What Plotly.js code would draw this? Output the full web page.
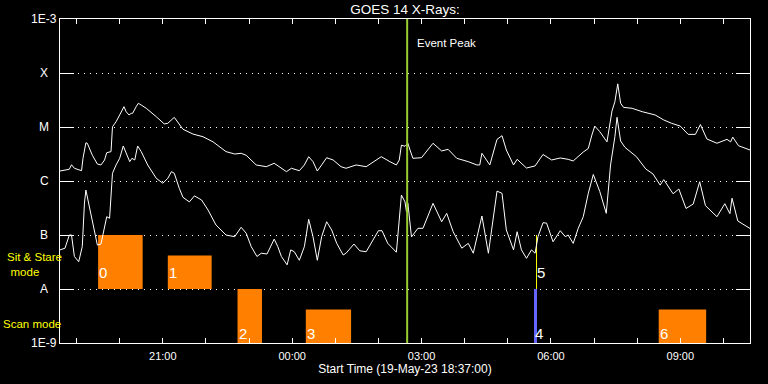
<!DOCTYPE html>
<html>
<head>
<meta charset="utf-8">
<script src="https://cdn.plot.ly/plotly-3.0.1.min.js"></script>
<style>
html,body{margin:0;padding:0;background:#000;}
#chart{width:768px;height:384px;}
</style>
</head>
<body>
<div id="chart"></div>
<script>
// ---- data (times are UT clock times; 18:xx-23:xx on 19-May-23, 00:xx-10:xx on 20-May-23) ----
const startLabel = 'Start Time (19-May-23 18:37:00)';
const rangeStart = '18:37';
const rangeEnd = '10:37';
const eventPeakTime = '02:40';

const longTimes = ['18:37','18:50','18:53','18:57','19:07','19:09','19:13','19:15','19:22','19:29',
 '19:34','19:39','19:42','19:48','19:50','19:55','20:00','20:06','20:09','20:13',
 '20:16','20:18','20:23','20:26','20:30','20:37','20:51','21:02','21:07','21:16',
 '21:28','21:42','21:56','22:10','22:28','22:40','22:49','22:56','23:10','23:24',
 '23:35','23:52','23:59','00:10','00:17','00:23','00:29','00:35','00:41','00:48',
 '00:57','01:08','01:15','01:29','01:43','01:53','02:04','02:16','02:25','02:29',
 '02:32','02:37','02:41','02:44','02:48','03:00','03:16','03:28','03:37','03:49',
 '04:05','04:17','04:21','04:24','04:35','04:45','04:52','04:58','05:08','05:13',
 '05:26','05:38','05:49','06:01','06:13','06:24','06:31','06:45','06:52','06:57',
 '07:01','07:08','07:18','07:25','07:29','07:33','07:37','07:41','07:53','08:07',
 '08:25','08:37','08:48','09:00','09:11','09:21','09:28','09:37','09:51','10:05',
 '10:10','10:13','10:21','10:37'];
const longFlux = [1.53e-6,1.65e-6,2.0e-6,1.72e-6,1.55e-6,2.63e-6,5.1e-6,5.0e-6,3.0e-6,2.06e-6,
 1.98e-6,2.45e-6,3.34e-6,3.5e-6,1.01e-5,1.25e-5,1.67e-5,2.38e-5,1.92e-5,1.67e-5,
 1.79e-5,1.79e-5,2.38e-5,2.75e-5,2.55e-5,2.22e-5,1.55e-5,1.14e-5,1.17e-5,1.51e-5,
 9.1e-6,7.4e-6,6.6e-6,5.3e-6,3.5e-6,3.16e-6,3.26e-6,3.0e-6,1.98e-6,1.84e-6,
 2.13e-6,1.49e-6,1.72e-6,1.55e-6,1.98e-6,2.82e-6,2.28e-6,1.53e-6,1.98e-6,2.7e-6,
 2.45e-6,1.84e-6,1.72e-6,1.98e-6,1.84e-6,2.28e-6,2.82e-6,2.28e-6,1.98e-6,2.45e-6,
 4.6e-6,4.4e-6,5.0e-6,3.75e-6,2.63e-6,2.7e-6,5.0e-6,3.6e-6,3.86e-6,2.63e-6,
 2.28e-6,1.98e-6,1.98e-6,3.26e-6,1.98e-6,5.9e-6,6.9e-6,3.75e-6,1.98e-6,2.52e-6,
 1.74e-6,1.9e-6,3.1e-6,2.45e-6,2.67e-6,2.52e-6,2.35e-6,3.44e-6,4.0e-6,7.1e-6,
 1.04e-5,8.2e-6,5.3e-6,1.98e-5,2.94e-5,6.3e-5,2.75e-5,2.31e-5,2.22e-5,1.92e-5,
 1.67e-5,1.35e-5,1.17e-5,1.04e-5,7.3e-6,7.3e-6,1.11e-5,6.0e-6,5.0e-6,5.9e-6,
 5.3e-6,6.5e-6,4.5e-6,3.75e-6];

const shortTimes = ['18:37','18:44','18:50','18:53','18:57','19:03','19:08','19:11','19:13','19:15',
 '19:20','19:25','19:29','19:34','19:39','19:42','19:46','19:48','19:50','19:55',
 '20:00','20:05','20:09','20:14','20:17','20:21','20:25','20:30','20:39','20:51',
 '21:00','21:07','21:12','21:16','21:23','21:28','21:37','21:44','21:54','22:03',
 '22:14','22:28','22:40','22:49','22:56','23:03','23:11','23:17','23:25','23:35',
 '23:40','23:45','23:53','23:58','00:03','00:10','00:17','00:23','00:29','00:35',
 '00:41','00:48','00:55','01:02','01:11','01:15','01:26','01:34','01:43','01:50',
 '02:00','02:05','02:13','02:25','02:27','02:32','02:37','02:39','02:41','02:46',
 '02:55','03:02','03:16','03:28','03:35','03:44','03:56','04:05','04:12','04:24',
 '04:33','04:45','04:52','04:58','05:08','05:13','05:19','05:26','05:33','05:38',
 '05:42','05:49','05:54','06:03','06:13','06:20','06:24','06:31','06:38','06:45',
 '06:52','06:59','07:08','07:17','07:23','07:29','07:32','07:37','07:43','07:59',
 '08:12','08:22','08:32','08:37','08:50','08:58','09:08','09:18','09:27','09:35',
 '09:51','10:02','10:09','10:12','10:20','10:35','10:37'];
const shortFlux = [5.3e-8,5.7e-8,1.0e-7,1.0e-7,4.0e-8,3.2e-8,6.1e-8,3.9e-7,6.8e-7,5.1e-7,
 2.18e-7,1.08e-7,6.5e-8,6.8e-8,1.42e-7,2.18e-7,2.04e-7,4.45e-7,1.39e-6,1.98e-6,
 2.63e-6,4.45e-6,3.26e-6,2.28e-6,2.63e-6,2.45e-6,4.45e-6,3.5e-6,1.98e-6,1.12e-6,
 9.1e-7,1.12e-6,1.49e-6,1.39e-6,7.3e-7,5.0e-7,4.1e-7,5.3e-7,4.45e-7,2.9e-7,
 1.53e-7,1.0e-7,9.3e-8,1.39e-7,1.08e-7,6.1e-8,4.0e-8,4.6e-8,4.45e-8,8.4e-8,
 6.1e-8,4.0e-8,2.8e-8,5.3e-8,4.9e-8,3.4e-8,6.1e-8,1.95e-7,9.3e-8,3.4e-8,
 9.3e-8,1.76e-7,1.24e-7,7.0e-8,4.26e-8,4.6e-8,6.8e-8,5.1e-8,4.9e-8,7.0e-8,
 1.2e-7,1.2e-7,7.0e-8,4.8e-8,9.3e-8,5.5e-7,4.1e-7,2.7e-7,3.86e-7,9.2e-8,
 1.33e-7,1.33e-7,3.86e-7,1.76e-7,2.52e-7,1.15e-7,5.7e-8,7.0e-8,4.6e-8,2.25e-7,
 4.6e-8,6.5e-7,5.9e-7,1.24e-7,5.3e-8,1.15e-7,5.3e-8,3.7e-8,5.3e-8,4.6e-8,
 9.3e-8,1.69e-7,1.66e-7,7.5e-8,1.2e-7,9.3e-8,1.0e-7,7.0e-8,1.33e-7,2.18e-7,
 5.9e-7,1.32e-6,6.4e-7,2.52e-7,1.98e-6,6.6e-6,1.51e-5,5.5e-6,4.2e-6,2.82e-6,
 1.67e-6,1.35e-6,8.4e-7,1.06e-6,5.8e-7,7.1e-7,3.1e-7,3.75e-7,9.7e-7,3.5e-7,
 2.18e-7,3.8e-7,2.48e-7,4.8e-7,1.82e-7,1.41e-7,1.32e-7];

// observation blocks
const barLabels = ['0','1','2','3','4','5','6'];
const barStart  = ['19:30','21:07','22:44','00:19','05:36:30','05:39:18','08:30'];
const barEnd    = ['20:32','22:08','23:18','01:22','05:40:42','05:40:42','09:36'];
const barMode   = ['stare','stare','scan','scan','scan','stare','scan'];
const barLevel  = [1, 0.62, 1, 0.62, 1, 1, 0.62];
const barColors = ['#ff8000','#ff8000','#ff8000','#ff8000','#6464ff','#ffff00','#ff8000'];

const yTickVals = [1e-3,1e-4,1e-5,1e-6,1e-7,1e-8,1e-9];
const yTickText = ['1E-3','X','M','C','B','A','1E-9'];
const xTickTimes = ['19:00','20:00','21:00','22:00','23:00','00:00','01:00','02:00','03:00',
 '04:00','05:00','06:00','07:00','08:00','09:00','10:00'];
const xTickText = ['','','21:00','','','00:00','','','03:00','','','06:00','','','09:00',''];

// ---- helpers ----
function toDate(t){
  const h = parseInt(t.slice(0,2),10);
  const day = h >= 18 ? '2023-05-19' : '2023-05-20';
  return day + ' ' + (t.length === 5 ? t + ':00' : t);
}
function ms(t){ return new Date(toDate(t).replace(' ','T') + 'Z').getTime(); }

const FONT = 'Liberation Sans, Arial, sans-serif';
const WHITE = '#ffffff';
const NB = '\u00a0';

const barX = barStart.map((s,i) => (ms(s) + ms(barEnd[i])) / 2);
const barW = barStart.map((s,i) => ms(barEnd[i]) - ms(s));
const barBase = barMode.map(m => m === 'stare' ? 1 : 0);

const traces = [
  {type:'bar', x: barX, y: barLevel, base: barBase, width: barW,
   marker:{color: barColors, line:{width:0}}, xaxis:'x', yaxis:'y', hoverinfo:'skip', showlegend:false},
  {type:'scatter', mode:'lines', x: longTimes.map(toDate), y: longFlux,
   line:{color: WHITE, width:1}, xaxis:'x', yaxis:'y2', hoverinfo:'skip', showlegend:false},
  {type:'scatter', mode:'lines', x: shortTimes.map(toDate), y: shortFlux,
   line:{color: WHITE, width:1}, xaxis:'x', yaxis:'y2', hoverinfo:'skip', showlegend:false}
];

const annotations = [];
// y axis class labels
yTickVals.forEach((v,i) => {
  annotations.push({xref:'paper', yref:'y2', x:-0.0225, y: Math.log10(v), text: yTickText[i],
    showarrow:false, xanchor:'center', yanchor:'middle', font:{family:FONT, size:12, color:WHITE}});
});
// mode labels
annotations.push({xref:'paper', yref:'paper', x:(34-60)/690, y:(343-264.5)/324,
  text:'Sit & Stare<br>mode' + NB.repeat(6), align:'center',
  showarrow:false, xanchor:'center', yanchor:'middle', font:{family:FONT, size:11.5, color:'#ffff00'}});
annotations.push({xref:'paper', yref:'paper', x:(1-60)/690, y:(343-323.5)/324, text:'Scan mode',
  showarrow:false, xanchor:'left', yanchor:'middle', font:{family:FONT, size:11.5, color:'#ffff00'}});
// event peak label
annotations.push({xref:'x', yref:'paper', x: toDate(eventPeakTime), y:(343-43)/324, xshift:8,
  text:'Event Peak', showarrow:false, xanchor:'left', yanchor:'middle',
  font:{family:FONT, size:11.5, color:WHITE}});
// block labels
barLabels.forEach((lab,i) => {
  annotations.push({xref:'x', yref:'y', x: ms(barStart[i]), y: barBase[i] + (barMode[i]==='stare' ? 0.30 : 0.18),
    xshift:-1, text: lab, showarrow:false, xanchor:'left', yanchor:'middle',
    font:{family:FONT, size:15, color:WHITE}});
});

const layout = {
  width:768, height:384,
  paper_bgcolor:'#000', plot_bgcolor:'#000',
  margin:{l:60, r:18, t:19, b:41, pad:0},
  showlegend:false,
  barmode:'overlay',
  font:{family:FONT, color:WHITE},
  title:{text:'GOES 14 X-Rays:', font:{family:FONT, size:13.5, color:WHITE},
         x:0.5, xref:'paper', xanchor:'center', y:1-9.5/384, yref:'container', yanchor:'middle'},
  xaxis:{type:'date', range:[toDate(rangeStart), toDate(rangeEnd)],
         tickmode:'array', tickvals: xTickTimes.map(toDate), ticktext: xTickText,
         ticks:'inside', ticklen:5, tickwidth:1, tickcolor:WHITE,
         showline:true, linecolor:WHITE, linewidth:1, mirror:'ticks',
         showgrid:false, zeroline:false, fixedrange:true,
         tickfont:{family:FONT, size:11, color:WHITE}, ticklabelstandoff:3,
         title:{text:startLabel, font:{family:FONT, size:12, color:WHITE}, standoff:3}},
  yaxis:{range:[0,6], visible:false, fixedrange:true},
  yaxis2:{type:'log', overlaying:'y', side:'left', range:[-9,-3],
          tickmode:'array', tickvals: yTickVals, showticklabels:false,
          ticks:'inside', ticklen:14, tickwidth:1, tickcolor:WHITE,
          showline:true, linecolor:WHITE, linewidth:1, mirror:'ticks',
          showgrid:true, gridcolor:WHITE, gridwidth:1, griddash:'1px,5px',
          zeroline:false, fixedrange:true},
  shapes:[{type:'line', xref:'x', yref:'paper', x0: toDate(eventPeakTime), x1: toDate(eventPeakTime),
           y0:0, y1:1, line:{color:'#9acd32', width:2}, layer:'above'}],
  annotations: annotations
};

Plotly.newPlot('chart', traces, layout, {staticPlot:true, displayModeBar:false});
</script>
</body>
</html>
